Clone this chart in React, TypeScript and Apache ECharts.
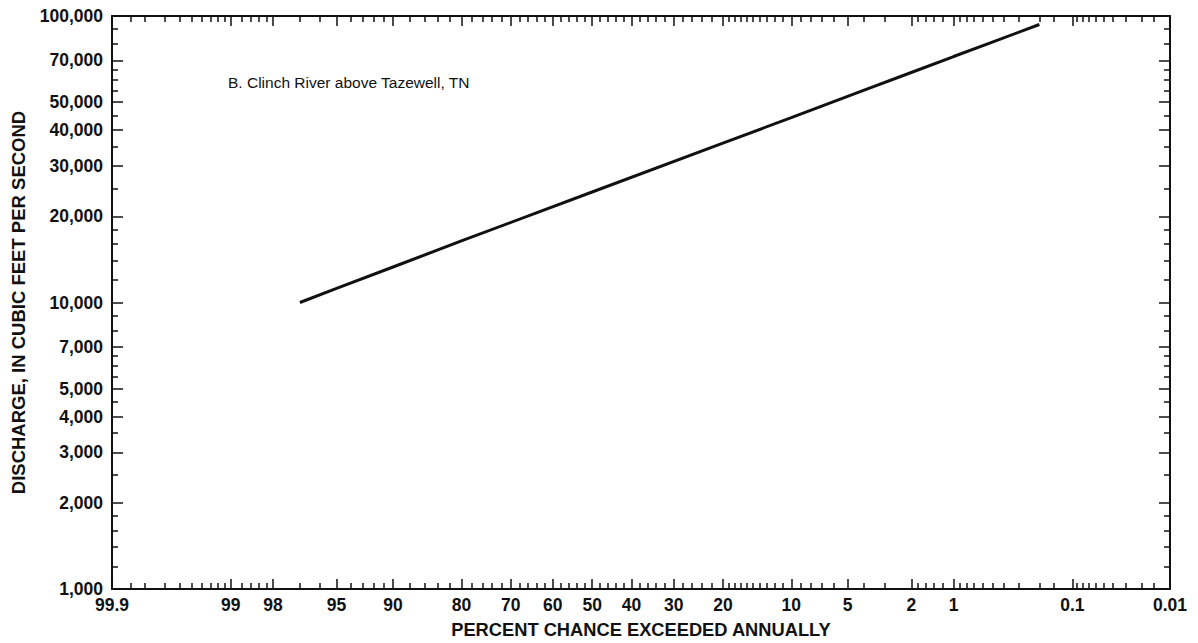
import React, { useEffect, useRef } from 'react';
import * as echarts from 'echarts';

const TITLE = 'B. Clinch River above Tazewell, TN';
const X_NAME = 'PERCENT CHANCE EXCEEDED ANNUALLY';
const Y_NAME = 'DISCHARGE, IN CUBIC FEET PER SECOND';

// Frequency curve: percent chance exceeded vs discharge (cfs)
const EXCEEDANCE_PCT = [97, 95, 90, 80, 50, 20, 10, 4, 2, 1, 0.5, 0.2];
const DISCHARGE_CFS = [10000, 11200, 13300, 16400, 24300, 36000, 44200, 55100, 63500, 72200, 81100, 93400];

// Axis ticks
const X_TICK_LABELS = ['99.9', '99', '98', '95', '90', '80', '70', '60', '50', '40', '30', '20', '10', '5', '2', '1', '0.1', '0.01'];
const X_MINOR_TICKS = [
  99.85, 99.8, 99.7, 99.6, 99.5, 99.4, 99.3, 99.2, 99.1,
  98.8, 98.6, 98.4, 98.2, 97, 96, 94, 93, 92, 91,
  88, 86, 84, 82, 78, 76, 74, 72, 68, 66, 64, 62, 58, 56, 54, 52,
  48, 46, 44, 42, 38, 36, 34, 32, 28, 26, 24, 22,
  19, 18, 17, 16, 15, 14, 13, 12, 11, 9, 8, 7, 6, 4, 3,
  1.8, 1.6, 1.4, 1.2, 0.9, 0.8, 0.7, 0.6, 0.5, 0.4, 0.3, 0.2, 0.15,
  0.09, 0.08, 0.07, 0.06, 0.05, 0.04, 0.03, 0.02, 0.015,
];
const Y_TICK_LABELS = [1000, 2000, 3000, 4000, 5000, 7000, 10000, 20000, 30000, 40000, 50000, 70000, 100000];
const Y_MINOR_TICKS = [
  1200, 1400, 1600, 1800, 2500, 3500, 4500, 5500, 6000, 6500, 8000, 9000,
  12000, 14000, 16000, 18000, 25000, 35000, 45000, 55000, 60000, 65000, 80000, 90000,
];

// Inverse standard normal CDF (Acklam) for the probability axis
function normInv(p: number): number {
  const a = [-3.969683028665376e1, 2.209460984245205e2, -2.759285104469687e2, 1.38357751867269e2, -3.066479806614716e1, 2.506628277459239];
  const b = [-5.447609879822406e1, 1.615858368580409e2, -1.556989798598866e2, 6.680131188771972e1, -1.328068155288572e1];
  const c = [-7.784894002430293e-3, -3.223964580411365e-1, -2.400758277161838, -2.549732539343734, 4.374664141464968, 2.938163982698783];
  const d = [7.784695709041462e-3, 3.224671290700398e-1, 2.445134137142996, 3.754408661907416];
  const pl = 0.02425;
  if (p < pl) {
    const q = Math.sqrt(-2 * Math.log(p));
    return (((((c[0] * q + c[1]) * q + c[2]) * q + c[3]) * q + c[4]) * q + c[5]) / ((((d[0] * q + d[1]) * q + d[2]) * q + d[3]) * q + 1);
  }
  if (p <= 1 - pl) {
    const q = p - 0.5;
    const r = q * q;
    return ((((((a[0] * r + a[1]) * r + a[2]) * r + a[3]) * r + a[4]) * r + a[5]) * q) / (((((b[0] * r + b[1]) * r + b[2]) * r + b[3]) * r + b[4]) * r + 1);
  }
  const q = Math.sqrt(-2 * Math.log(1 - p));
  return -(((((c[0] * q + c[1]) * q + c[2]) * q + c[3]) * q + c[4]) * q + c[5]) / ((((d[0] * q + d[1]) * q + d[2]) * q + d[3]) * q + 1);
}
const zOf = (pct: number) => normInv(1 - pct / 100);

const FONT = '"Liberation Sans", Arial, Helvetica, sans-serif';
const INK = '#111';

export default function App() {
  const ref = useRef<HTMLDivElement>(null);

  useEffect(() => {
    if (!ref.current) return;
    const chart = echarts.init(ref.current, undefined, { renderer: 'svg' });

    const xMajor = X_TICK_LABELS.map((s) => zOf(parseFloat(s)));
    const xMinor = X_MINOR_TICKS.map(zOf);
    const xMin = zOf(99.9) - 1e-9;
    const xMax = zOf(0.01) + 1e-9;
    const yMajor = Y_TICK_LABELS.map((v) => Math.log10(v));
    const yMinor = Y_MINOR_TICKS.map((v) => Math.log10(v));
    const yMin = 3 - 1e-9;
    const yMax = 5 + 1e-9;

    const xFormatter = (v: number) => {
      let best = X_TICK_LABELS[0];
      let bd = Infinity;
      xMajor.forEach((z, i) => {
        const dd = Math.abs(z - v);
        if (dd < bd) { bd = dd; best = X_TICK_LABELS[i]; }
      });
      return best;
    };
    const yFormatter = (v: number) => Math.round(Math.pow(10, v)).toLocaleString('en-US');

    const labelStyle = { fontFamily: FONT, fontSize: 17.5, fontWeight: 'bold' as const, color: INK };

    const mkX = (position: 'top' | 'bottom', ticks: number[], len: number, labels: boolean, line: boolean, extra: any = {}) => ({
      type: 'value',
      position,
      min: xMin,
      max: xMax,
      splitLine: { show: false },
      axisLine: { show: line, onZero: false, lineStyle: { color: INK, width: 2 } },
      axisTick: { show: true, inside: true, length: len, customValues: ticks, lineStyle: { color: INK, width: 1.5 } },
      axisLabel: labels
        ? { show: true, customValues: xMajor, formatter: xFormatter, margin: 7, ...labelStyle }
        : { show: false },
      ...extra,
    });
    const mkY = (position: 'left' | 'right', ticks: number[], len: number, labels: boolean, line: boolean, extra: any = {}) => ({
      type: 'value',
      position,
      min: yMin,
      max: yMax,
      splitLine: { show: false },
      axisLine: { show: line, onZero: false, lineStyle: { color: INK, width: 2 } },
      axisTick: { show: true, inside: true, length: len, customValues: ticks, lineStyle: { color: INK, width: 1.5 } },
      axisLabel: labels
        ? { show: true, customValues: yMajor, formatter: yFormatter, margin: 9, ...labelStyle }
        : { show: false },
      ...extra,
    });

    chart.setOption({
      animation: false,
      backgroundColor: '#fff',
      title: {
        text: TITLE,
        left: 228,
        top: 74,
        padding: 0,
        textStyle: { fontFamily: FONT, fontSize: 15.5, fontWeight: 'normal', color: INK },
      },
      grid: { left: 112, right: 28, top: 16, bottom: 54, containLabel: false, outerBoundsMode: 'none' },
      xAxis: [
        mkX('bottom', xMajor, 10, true, true, {
          name: X_NAME,
          nameLocation: 'middle',
          nameGap: 31,
          nameMoveOverlap: false,
          nameTextStyle: { fontFamily: FONT, fontSize: 18.3, fontWeight: 'bold', color: INK },
        }),
        mkX('bottom', xMinor, 6, false, false),
        mkX('top', xMajor, 10, false, true),
        mkX('top', xMinor, 6, false, false),
      ],
      yAxis: [
        mkY('left', yMajor, 11, true, true, {
          name: Y_NAME,
          nameLocation: 'middle',
          nameRotate: 90,
          nameGap: 84,
          nameMoveOverlap: false,
          nameTextStyle: { fontFamily: FONT, fontSize: 18.5, fontWeight: 'bold', color: INK },
        }),
        mkY('left', yMinor, 6, false, false),
        mkY('right', yMajor, 11, false, true),
        mkY('right', yMinor, 6, false, false),
      ],
      series: [
        {
          type: 'line',
          xAxisIndex: 0,
          yAxisIndex: 0,
          data: EXCEEDANCE_PCT.map((p, i) => [zOf(p), Math.log10(DISCHARGE_CFS[i])]),
          showSymbol: false,
          symbol: 'none',
          lineStyle: { color: INK, width: 3 },
          silent: true,
        },
      ],
    });

    return () => chart.dispose();
  }, []);

  return (
    <div
      ref={ref}
      style={{ position: 'fixed', left: 0, top: 0, width: 1198, height: 643, background: '#fff' }}
    />
  );
}
